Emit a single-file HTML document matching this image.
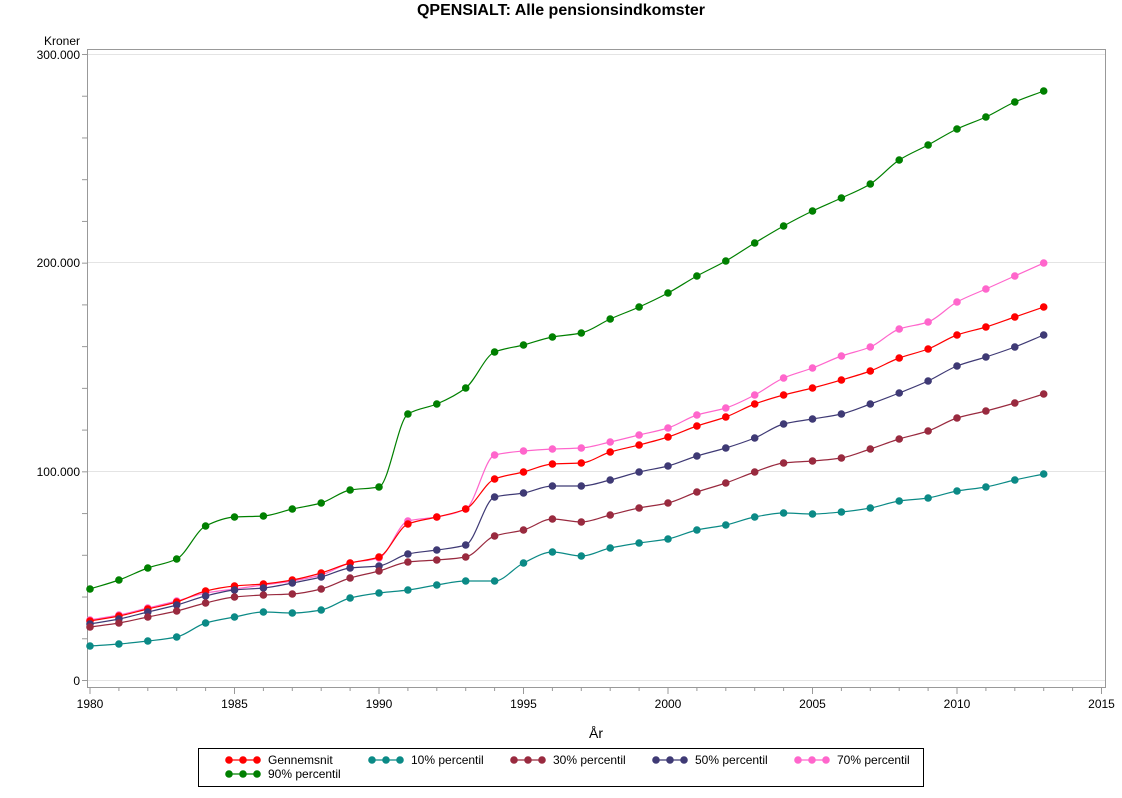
<!DOCTYPE html>
<html><head><meta charset="utf-8"><style>
body{margin:0;background:#fff}
svg text{font-family:"Liberation Sans",Arial,sans-serif;fill:#000}
</style></head><body>
<svg id="s" width="1122" height="793" xmlns="http://www.w3.org/2000/svg">
<text x="561" y="15" font-size="16" font-weight="bold" text-anchor="middle">QPENSIALT: Alle pensionsindkomster</text>
<text x="80" y="45" font-size="12" text-anchor="end">Kroner</text>
<g stroke="#e4e4e4" stroke-width="1">
<line x1="88" x2="1105" y1="54.5" y2="54.5"/><line x1="88" x2="1105" y1="262.5" y2="262.5"/>
<line x1="88" x2="1105" y1="471.5" y2="471.5"/><line x1="88" x2="1105" y1="680.5" y2="680.5"/>
</g>
<rect x="87.5" y="49.5" width="1018" height="638" fill="none" stroke="#999"/>
<g id="ticks" stroke="#999"></g>
<g font-size="12" text-anchor="end">
<text x="80" y="59">300.000</text><text x="80" y="267">200.000</text>
<text x="80" y="476">100.000</text><text x="80" y="685">0</text>
</g>
<g font-size="12" text-anchor="middle" id="xl"></g>
<text x="596" y="738" font-size="14" text-anchor="middle">År</text>
<g id="series"></g>
<rect x="198.5" y="748.5" width="725" height="38" fill="none" stroke="#000"/>
<g id="leg" font-size="12"></g>
</svg>
<script>
var NS="http://www.w3.org/2000/svg";
function el(p,t,a,txt){var e=document.createElementNS(NS,t);for(var k in a)e.setAttribute(k,a[k]);if(txt)e.textContent=txt;p.appendChild(e);return e;}
var tk=document.getElementById('ticks');
for(var i=0;i<=15;i++){var y=680.5-i*20000*208.67/100000;el(tk,'line',{x1:82,x2:87,y1:y,y2:y});}
var xl=document.getElementById('xl');
for(var yr=1980;yr<=2015;yr++){var x=90+(yr-1980)*28.9;var big=yr%5==0;el(tk,'line',{x1:x,x2:x,y1:688,y2:big?694:691});if(big)el(xl,'text',{x:x,y:708},String(yr));}
var S=[
["#008000",[589,580,568,559,526,517,516,509,503,490,487,414,404,388,352,345,337,333,319,307,293,276,261,243,226,211,198,184,160,145,129,117,102,91]],
["#ff66cc",[620,615,608,601,593,589,585,581,575,563,558,521,517,509,455,451,449,448,442,435,428,415,408,395,378,368,356,347,329,322,302,289,276,263]],
["#ff0000",[621,616,609,602,591,586,584,580,573,563,557,524,517,509,479,472,464,463,452,445,437,426,417,404,395,388,380,371,358,349,335,327,317,307]],
["#3f3a75",[624,619,612,605,596,590,588,583,577,568,566,554,550,545,497,493,486,486,480,472,466,456,448,438,424,419,414,404,393,381,366,357,347,335]],
["#992a3f",[627,623,617,611,603,597,595,594,589,578,571,562,560,557,536,530,519,522,515,508,503,492,483,472,463,461,458,449,439,431,418,411,403,394]],
["#0b8a86",[646,644,641,637,623,617,612,613,610,598,593,590,585,581,581,563,552,556,548,543,539,530,525,517,513,514,512,508,501,498,491,487,480,474]]
];
var sg=document.getElementById('series');
S.forEach(function(s){var c=s[0],ys=s[1],n=ys.length,h=28.9;
var dl=[],m=[];for(var i=0;i<n-1;i++)dl.push((ys[i+1]-ys[i])/h);
for(var i=0;i<n;i++){if(i==0)m.push(dl[0]);else if(i==n-1)m.push(dl[n-2]);else if(dl[i-1]*dl[i]<=0)m.push(0);else m.push(2/(1/dl[i-1]+1/dl[i]));}
var d="M90,"+ys[0];
for(var i=0;i<n-1;i++){var x1=90+i*h,x2=x1+h;
d+=" C"+(x1+h/3)+","+(ys[i]+m[i]*h/3)+" "+(x2-h/3)+","+(ys[i+1]-m[i+1]*h/3)+" "+x2+","+ys[i+1];}
el(sg,'path',{d:d,fill:"none",stroke:c,"stroke-width":1.2});
ys.forEach(function(y,i){el(sg,'circle',{cx:90+i*h,cy:y,r:3.8,fill:c});});});
var lg=document.getElementById('leg');
var L=[["#ff0000","Gennemsnit",229,760],["#0b8a86","10% percentil",372,760],["#992a3f","30% percentil",514,760],["#3f3a75","50% percentil",656,760],["#ff66cc","70% percentil",798,760],["#008000","90% percentil",229,774]];
L.forEach(function(l){el(lg,'line',{x1:l[2],x2:l[2]+28,y1:l[3],y2:l[3],stroke:l[0],"stroke-width":1.2});
for(var k=0;k<3;k++)el(lg,'circle',{cx:l[2]+k*14,cy:l[3],r:3.8,fill:l[0]});
el(lg,'text',{x:l[2]+39,y:l[3]+4},l[1]);});
</script>
</body></html>
